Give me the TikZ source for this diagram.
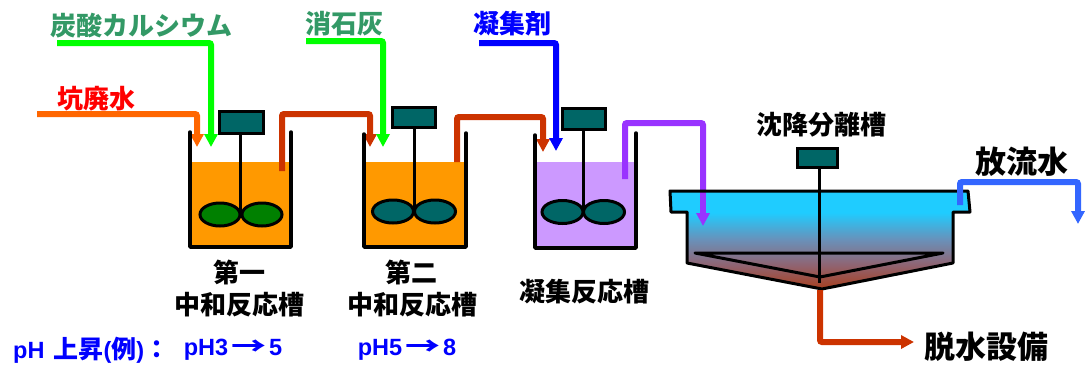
\documentclass[tikz,border=0pt]{standalone}
\usepackage{fontspec}
\setmainfont{Noto Sans CJK JP}
\newfontfamily\latn{Liberation Sans}
\usetikzlibrary{arrows.meta}

\definecolor{cOrange}{HTML}{FF6600}
\definecolor{cGreen}{HTML}{00FF00}
\definecolor{cBrick}{HTML}{CC3300}
\definecolor{cBlue}{HTML}{0000FF}
\definecolor{cPurple}{HTML}{9933FF}
\definecolor{cOut}{HTML}{3366FF}
\definecolor{cLiquor}{HTML}{FF9900}
\definecolor{cLavender}{HTML}{CC99FF}
\definecolor{cTeal}{HTML}{006666}
\definecolor{cLeaf}{HTML}{008000}
\definecolor{cSea}{HTML}{339966}
\definecolor{cRed}{HTML}{FF0000}
\definecolor{sTop}{HTML}{1FCCFF}
\definecolor{sUpper}{HTML}{6A90B8}
\definecolor{sMid}{HTML}{8E6676}
\definecolor{sBot}{HTML}{A8401F}

% settling tank: clear water on top, sludge at the bottom
\pgfdeclareverticalshading{settle}{100bp}{color(0bp)=(sBot); color(25bp)=(sBot);
  color(38bp)=(sMid); color(50bp)=(sUpper); color(64bp)=(sTop); color(100bp)=(sTop)}

% Latin part and long arrow used in the pH row
\newcommand\phl[1]{{\latn\fontsize{23.5}{27}\selectfont #1}}
\newcommand\phto{\hspace{3pt}\scalebox{1.4}[1]{→}\hspace{3pt}}

\begin{document}
\begin{tikzpicture}[x=1pt,y=-1pt,
  pipe/.style={line width=6pt, rounded corners=2pt, -{Triangle[length=13pt,width=13pt]}},
  wall/.style={line width=3.5pt, line cap=round, line join=round},
  motor/.style={draw=black, line width=3pt, fill=cTeal},
  shaft/.style={line width=3pt},
  blade/.style={draw=black, line width=3pt},
  lbl/.style={inner sep=0pt, font=\bfseries\fontsize{26}{30}\selectfont},
  big/.style={inner sep=0pt, font=\bfseries\fontsize{31}{36}\selectfont},
  ph/.style={inner sep=0pt, text=cBlue, font=\bfseries\fontsize{25}{28}\selectfont}]

\useasboundingbox (0,0) rectangle (1085,365);

% ---------- first neutralisation tank ----------
\fill[cLiquor] (190,162) rectangle (291,247);
\draw[motor] (219,111) rectangle (263,133);
\draw[shaft] (240,133) -- (240,214);
\draw[blade, fill=cLeaf] (220,214.5) ellipse [x radius=20, y radius=11.5];
\draw[blade, fill=cLeaf] (262,214.5) ellipse [x radius=20, y radius=11.5];

% ---------- second neutralisation tank ----------
\fill[cLiquor] (364,162) rectangle (466,247);
\draw[motor] (392,107) rectangle (435,127);
\draw[shaft] (414,127) -- (414,211);
\draw[blade, fill=cTeal] (393,211.5) ellipse [x radius=20.5, y radius=11.5];
\draw[blade, fill=cTeal] (435,211.5) ellipse [x radius=20.5, y radius=11.5];

% ---------- coagulation tank ----------
\fill[cLavender] (535,162) rectangle (636,248);
\draw[motor] (562,108) rectangle (605,129);
\draw[shaft] (583,129) -- (583,212);
\draw[blade, fill=cTeal] (562.5,212) ellipse [x radius=20.5, y radius=11.5];
\draw[blade, fill=cTeal] (604,212) ellipse [x radius=20.5, y radius=11.5];

% ---------- process piping ----------
\draw[pipe, cOrange] (37,114) -- (197,114) -- (197,147);
\draw[pipe, cGreen]  (57,43) -- (211,43) -- (211,147);
\draw[pipe, cBrick]  (282,171) -- (282,114) -- (370,114) -- (370,147);
\draw[pipe, cGreen]  (306,41) -- (383,41) -- (383,147);
\draw[pipe, cBrick]  (457,162) -- (457,117) -- (543,117) -- (543,152);
\draw[pipe, cBlue]   (479,43) -- (556,43) -- (556,151);
\draw[pipe, cPurple] (625,179) -- (625,123) -- (703,123) -- (703,226);

% tank walls
\draw[wall] (190,132) -- (190,247) -- (291,247) -- (291,132);
\draw[wall] (364,134) -- (364,247) -- (466,247) -- (466,133);
\draw[wall] (535,135) -- (535,248) -- (636,248) -- (636,133);

% ---------- settling tank ----------
\shade[shading=settle] (670,191) -- (968,191) -- (970,212) -- (953,212) -- (953,263)
  -- (822,289) -- (687,263) -- (687,212) -- (671,212) -- cycle;
\draw[pipe, cPurple] (703,170) -- (703,226);
\draw[line width=3pt, line join=round] (670,191) -- (968,191) -- (970,212) -- (953,212) -- (953,263)
  -- (822,289) -- (687,263) -- (687,212) -- (671,212) -- cycle;
\draw[line width=3pt, line join=round] (695,253) -- (943,253) -- (820,277) -- cycle;
\draw[shaft] (819,167) -- (819,283);
\draw[motor] (797,148) rectangle (837,167);

\draw[pipe, cOut]   (960,205) -- (960,182) -- (1078,182) -- (1078,224);
\draw[pipe, cBrick] (820,290) -- (820,342) -- (914,342);

% ---------- labels ----------
\node[lbl, text=cSea] (caco3) at (141,26) {炭酸カルシウム};
\node[lbl, text=cRed] (acid)  at (96,99)  {坑廃水};
\node[lbl, text=cSea] (lime)  at (344,24) {消石灰};
\node[lbl, text=cBlue] (coag) at (512,24) {凝集剤};

\node[lbl] (t1a) at (239,272) {第一};
\node[lbl] (t1b) at (239,305) {中和反応槽};
\node[lbl] (t2a) at (411,272) {第二};
\node[lbl] (t2b) at (412,305) {中和反応槽};
\node[lbl] (t3)  at (584,292) {凝集反応槽};
\node[lbl] (t4)  at (821,125) {沈降分離槽};

\node[big] (outw)  at (1022,162) {放流水};
\node[big] (dewat) at (986,347)  {脱水設備};

\node[ph, anchor=west] (phhead) at (13,350) {\phl{pH}\hspace{9pt}上昇\phl{(}例\phl{)}：};
\node[ph] (ph1) at (233,350) {\phl{pH3}\phto\phl{5}};
\node[ph] (ph2) at (407,350) {\phl{pH5}\phto\phl{8}};

\end{tikzpicture}
\end{document}
